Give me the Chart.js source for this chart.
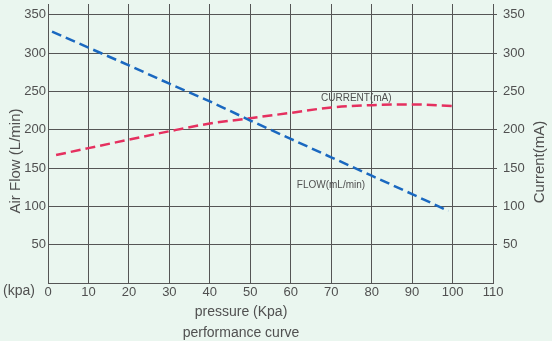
<!DOCTYPE html>
<html><head><meta charset="utf-8">
<script src="https://cdn.jsdelivr.net/npm/chart.js@4/dist/chart.umd.min.js"></script>
<style>html,body{margin:0;padding:0;background:#eaf6ef;}#wrap{width:552px;height:341px;}</style>
</head><body><div id="wrap"><canvas id="c" width="552" height="341"></canvas></div>
<script>
const pressureFlow = [1, 10, 20, 30, 40, 50, 60, 70, 80, 90, 99];
const flowValues   = [328, 307, 284, 260, 237, 212, 188, 164, 140, 116, 94];
const pressureCurrent = [2, 10, 20, 30, 40, 50, 60, 70, 80, 90, 100];
const currentValues   = [167, 176, 187, 198, 208, 215, 222, 229, 232, 233, 231];
const xTicks = [0, 10, 20, 30, 40, 50, 60, 70, 80, 90, 100, 110];
const yTicks = [50, 100, 150, 200, 250, 300, 350];

const TXT = '#505050';
const GRID = '#555555';
const FONT = '"Liberation Sans", Arial, sans-serif';

const textPlugin = {
  id: 'texts',
  afterDraw(chart) {
    const ctx = chart.ctx, a = chart.chartArea;
    ctx.save();
    ctx.fillStyle = TXT;
    ctx.textBaseline = 'middle';
    ctx.textAlign = 'left';
    ctx.font = '14px ' + FONT;
    ctx.fillText('(kpa)', 3, a.bottom + 8);
    ctx.textAlign = 'center';
    ctx.fillText('pressure (Kpa)', 241, a.bottom + 29);
    ctx.fillText('performance curve', 241, a.bottom + 50);
    const xs = chart.scales.x, ys = chart.scales.y;
    ctx.font = '10px ' + FONT;
    ctx.textAlign = 'left';
    ctx.fillText('CURRENT(mA)', xs.getPixelForValue(67.5), ys.getPixelForValue(240.5));
    ctx.fillText('FLOW(mL/min)', xs.getPixelForValue(61.5), ys.getPixelForValue(128));
    ctx.font = '15px ' + FONT;
    ctx.save();
    ctx.translate(16, 161);
    ctx.rotate(-Math.PI / 2);
    ctx.textAlign = 'center';
    ctx.fillText('Air Flow (L/min)', 0, 0);
    ctx.restore();
    ctx.save();
    ctx.translate(540, 162);
    ctx.rotate(-Math.PI / 2);
    ctx.textAlign = 'center';
    ctx.fillText('Current(mA)', 0, 0);
    ctx.restore();
    ctx.restore();
  }
};

function noPad(s) { s.paddingTop = 0; s.paddingBottom = 0; s.paddingLeft = 0; s.paddingRight = 0; }

new Chart(document.getElementById('c'), {
  type: 'scatter',
  data: {
    datasets: [
      {
        label: 'FLOW(mL/min)',
        data: pressureFlow.map((p, i) => ({x: p, y: flowValues[i]})),
        showLine: true, borderColor: '#1a68c0', borderWidth: 2.5,
        borderDash: [10, 5], pointRadius: 0, tension: 0, yAxisID: 'y'
      },
      {
        label: 'CURRENT(mA)',
        data: pressureCurrent.map((p, i) => ({x: p, y: currentValues[i]})),
        showLine: true, borderColor: '#e5305f', borderWidth: 2.5,
        borderDash: [10, 5], pointRadius: 0, tension: 0.4, cubicInterpolationMode: 'monotone', yAxisID: 'y2'
      }
    ]
  },
  options: {
    responsive: false, animation: false,
    layout: { padding: { top: 4, left: 0, right: 0, bottom: 0 } },
    plugins: { legend: { display: false }, tooltip: { enabled: false } },
    scales: {
      x: {
        type: 'linear', min: 0, max: 110,
        afterBuildTicks: s => { s.ticks = xTicks.map(v => ({value: v})); },
        afterFit: s => { s.height = 58; noPad(s); },
        grid: { color: GRID, lineWidth: 1, drawTicks: false },
        border: { color: GRID },
        ticks: { color: TXT, font: { size: 13, family: FONT }, padding: 2, maxRotation: 0 }
      },
      y: {
        type: 'linear', position: 'left', min: 0, max: 364,
        afterBuildTicks: s => { s.ticks = yTicks.map(v => ({value: v})); },
        afterFit: s => { s.width = 48; noPad(s); },
        grid: { color: GRID, lineWidth: 1, drawTicks: false },
        border: { color: GRID },
        ticks: { color: TXT, font: { size: 13, family: FONT }, padding: 2 }
      },
      y2: {
        type: 'linear', position: 'right', min: 0, max: 364,
        afterBuildTicks: s => { s.ticks = yTicks.map(v => ({value: v})); },
        afterFit: s => { s.width = 59; noPad(s); },
        grid: { color: GRID, lineWidth: 1, drawOnChartArea: false, drawTicks: true, tickLength: 4 },
        border: { color: GRID },
        ticks: { color: TXT, font: { size: 13, family: FONT }, padding: 6 }
      }
    }
  },
  plugins: [textPlugin]
});
</script>
</body></html>
